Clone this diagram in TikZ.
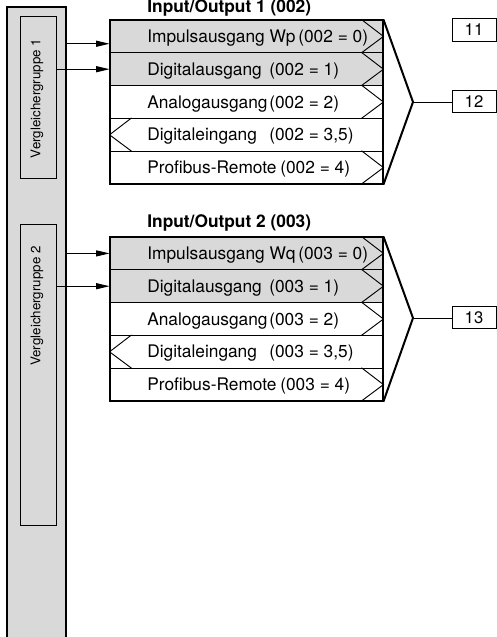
\documentclass[tikz,border=0pt]{standalone}
\usepackage{fontspec}
\setmainfont{TeX Gyre Heros}
\usetikzlibrary{arrows.meta}
\definecolor{panelgray}{RGB}{217,217,217}

\begin{document}
\begin{tikzpicture}[x=0.75pt,y=0.75pt,yscale=-1,xscale=1,
  row/.style={draw, line width=0.7pt, minimum width=204.75pt, minimum height=24.6pt, inner sep=0pt},
  outrow/.style={row, fill=panelgray},
  lbl/.style={anchor=base west, inner sep=0pt, font=\fontsize{13}{15}\selectfont},
  ttl/.style={anchor=base west, inner sep=0pt, font=\fontsize{13}{15}\selectfont\bfseries},
  numbox/.style={draw, line width=0.7pt, minimum width=33pt, minimum height=16.9pt, inner sep=0pt, font=\fontsize{12.5}{14}\selectfont},
  grpbox/.style={draw, fill=panelgray, line width=0.7pt, minimum width=27pt, inner sep=0pt},
  grptext/.style={rotate=90, inner sep=0pt, font=\fontsize{10}{12}\selectfont},
  feed/.style={line width=0.7pt, -{Triangle[length=10pt, width=4.5pt]}},
  heavy/.style={line width=1.5pt}
]
\clip (0,0) rectangle (497,637);

% comparator column
\node[draw, fill=panelgray, heavy, minimum width=44.25pt, minimum height=519.75pt, inner sep=0pt] (bar) at (36.5,353.5) {};
\node[grpbox, minimum height=121.5pt] (vg1) at (38,97) {};
\node[grptext] (vg1t) at (37,98.5) {Vergleichergruppe 1};
\node[grpbox, minimum height=225.75pt] (vg2) at (38,374.5) {};
\node[grptext] (vg2t) at (37,306) {Vergleichergruppe 2};

% Input/Output 1
\node[ttl] (io1) at (147,12) {Input/Output 1 (002)};
\node[outrow] (p1r1) at (246.5,36.4) {};
\node[outrow] (p1r2) at (246.5,69.2) {};
\node[row] (p1r3) at (246.5,102) {};
\node[row] (p1r4) at (246.5,134.8) {};
\node[row] (p1r5) at (246.5,167.6) {};
\draw[heavy] (p1r1.north west) rectangle (p1r5.south east);
\draw[line width=0.7pt] (p1r1.north east) ++(-22,0) -- (p1r1.east) -- ++(-22,16.4);
\draw[line width=0.7pt] (p1r2.north east) ++(-22,0) -- (p1r2.east) -- ++(-22,16.4);
\draw[line width=0.7pt] (p1r3.north east) ++(-22,0) -- (p1r3.east) -- ++(-22,16.4);
\draw[line width=0.7pt] (p1r4.north west) ++(22,0) -- (p1r4.west) -- ++(22,16.4);
\draw[line width=0.7pt] (p1r5.north east) ++(-22,0) -- (p1r5.east) -- ++(-22,16.4);
\coordinate (tip1) at (413,102);
\draw[heavy] (p1r1.north east) -- (tip1) -- (p1r5.south east);
\node[lbl] (p1n1) at (147,42.4) {Impulsausgang Wp};
\node[lbl] (p1c1) at (298,42.4) {(002 = 0)};
\node[lbl] (p1n2) at (147,75.2) {Digitalausgang};
\node[lbl] (p1c2) at (269,75.2) {(002 = 1)};
\node[lbl] (p1n3) at (147,108) {Analogausgang};
\node[lbl] (p1c3) at (269,108) {(002 = 2)};
\node[lbl] (p1n4) at (147,140.8) {Digitaleingang};
\node[lbl] (p1c4) at (269,140.8) {(002 = 3,5)};
\node[lbl] (p1n5) at (147,173.6) {Profibus-Remote};
\node[lbl] (p1c5) at (280,173.6) {(002 = 4)};
\coordinate (in1) at ([yshift=5.5pt]p1r1.west);
\draw[feed] (bar.east |- in1) -- (in1);
\draw[feed] (vg1.east |- p1r2.west) -- (p1r2.west);

% Input/Output 2
\node[ttl] (io2) at (147,227) {Input/Output 2 (003)};
\node[outrow] (p2r1) at (246.5,253.4) {};
\node[outrow] (p2r2) at (246.5,286.2) {};
\node[row] (p2r3) at (246.5,319) {};
\node[row] (p2r4) at (246.5,351.8) {};
\node[row] (p2r5) at (246.5,384.6) {};
\draw[heavy] (p2r1.north west) rectangle (p2r5.south east);
\draw[line width=0.7pt] (p2r1.north east) ++(-22,0) -- (p2r1.east) -- ++(-22,16.4);
\draw[line width=0.7pt] (p2r2.north east) ++(-22,0) -- (p2r2.east) -- ++(-22,16.4);
\draw[line width=0.7pt] (p2r3.north east) ++(-22,0) -- (p2r3.east) -- ++(-22,16.4);
\draw[line width=0.7pt] (p2r4.north west) ++(22,0) -- (p2r4.west) -- ++(22,16.4);
\draw[line width=0.7pt] (p2r5.north east) ++(-22,0) -- (p2r5.east) -- ++(-22,16.4);
\coordinate (tip2) at (413,318);
\draw[heavy] (p2r1.north east) -- (tip2) -- (p2r5.south east);
\node[lbl] (p2n1) at (147,259.4) {Impulsausgang Wq};
\node[lbl] (p2c1) at (298,259.4) {(003 = 0)};
\node[lbl] (p2n2) at (147,292.2) {Digitalausgang};
\node[lbl] (p2c2) at (269,292.2) {(003 = 1)};
\node[lbl] (p2n3) at (147,325) {Analogausgang};
\node[lbl] (p2c3) at (269,325) {(003 = 2)};
\node[lbl] (p2n4) at (147,357.8) {Digitaleingang};
\node[lbl] (p2c4) at (269,357.8) {(003 = 3,5)};
\node[lbl] (p2n5) at (147,390.6) {Profibus-Remote};
\node[lbl] (p2c5) at (280,390.6) {(003 = 4)};
\draw[feed] (bar.east |- p2r1.west) -- (p2r1.west);
\draw[feed] (vg2.east |- p2r2.west) -- (p2r2.west);

% outputs
\node[numbox] (n11) at (474,30) {11};
\node[numbox] (n12) at (474,101.5) {12};
\node[numbox] (n13) at (474,317.5) {13};
\draw[line width=0.7pt] (tip1) -- (tip1 -| n12.west);
\draw[line width=0.7pt] (tip2) -- (tip2 -| n13.west);
\end{tikzpicture}
\end{document}
